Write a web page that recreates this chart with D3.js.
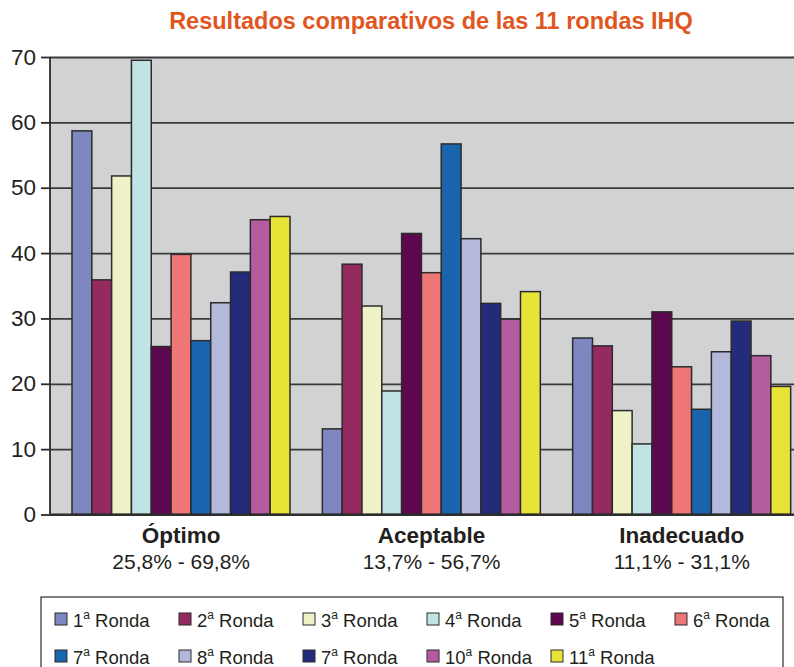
<!DOCTYPE html>
<html>
<head>
<meta charset="utf-8">
<script src="https://cdn.jsdelivr.net/npm/d3@7"></script>
<style>
    body { margin: 0; background: #fff; }
    svg { display: block; font-family: "Liberation Sans", Arial, sans-serif; }
</style>
</head>
<body>
<svg id="chart"></svg>
<script>
// data
var categories = ["Óptimo", "Aceptable", "Inadecuado"];
var ranges = ["25,8% - 69,8%", "13,7% - 56,7%", "11,1% - 31,1%"];
var rounds = ["1", "2", "3", "4", "5", "6", "7", "8", "7", "10", "11"];
var ronda1 = [58.7, 13.1, 27.0];
var ronda2 = [35.9, 38.3, 25.8];
var ronda3 = [51.8, 31.9, 15.9];
var ronda4 = [69.5, 18.9, 10.8];
var ronda5 = [25.7, 43.0, 31.0];
var ronda6 = [39.8, 37.0, 22.6];
var ronda7 = [26.6, 56.7, 16.1];
var ronda8 = [32.4, 42.2, 24.9];
var ronda9 = [37.1, 32.3, 29.6];
var ronda10 = [45.1, 29.9, 24.3];
var ronda11 = [45.6, 34.1, 19.6];
var yTicks = [0, 10, 20, 30, 40, 50, 60, 70];
var colors = ["#7f87c0", "#952a60", "#eff2c6", "#c0e3e3", "#5c0750", "#ef7677",
              "#1a64ae", "#b4b9dc", "#252b7b", "#b55ba0", "#e8e437"];

var series = [ronda1, ronda2, ronda3, ronda4, ronda5, ronda6, ronda7, ronda8, ronda9, ronda10, ronda11];

var width = 794, height = 667;
var plot = {left: 50, top: 57, right: 794, bottom: 514.5};

var svg = d3.select('#chart')
    .attr("width", width)
    .attr("height", height);

// title
svg.append("text")
    .attr("x", 431)
    .attr("y", 29)
    .attr("text-anchor", "middle")
    .attr("font-size", 23.5)
    .attr("font-weight", "bold")
    .attr("fill", "#e0561f")
    .text("Resultados comparativos de las 11 rondas IHQ");

// scales
var y = d3.scaleLinear()
    .domain([0, 70])
    .range([plot.bottom, plot.top]);

var x0 = d3.scaleBand()
    .domain(categories)
    .range([56, 807]);

var x1 = d3.scaleBand()
    .domain(d3.range(series.length))
    .range([16, 234]);

// plot background
svg.append("rect")
    .attr("x", plot.left)
    .attr("y", plot.top)
    .attr("width", plot.right - plot.left)
    .attr("height", plot.bottom - plot.top)
    .attr("fill", "#d1d2d4");

// gridlines
svg.append("g")
    .attr("class", "grid")
    .attr("transform", "translate(" + plot.left + ",0)")
    .call(d3.axisLeft(y)
        .tickValues(yTicks)
        .tickSize(-(plot.right - plot.left))
        .tickFormat(""))
    .call(function(g) { g.select(".domain").remove(); })
    .selectAll("line")
        .attr("stroke", "#3a3a3a")
        .attr("stroke-width", 1.8);

// bars
var groups = svg.append("g")
    .selectAll("g")
    .data(categories)
    .join("g")
    .attr("transform", function(d) { return "translate(" + x0(d) + ",0)"; });

groups.selectAll("rect")
    .data(function(d, i) {
        return series.map(function(s, j) { return {k: j, v: s[i]}; });
    })
    .join("rect")
    .attr("x", function(d) { return x1(d.k); })
    .attr("y", function(d) { return y(d.v); })
    .attr("width", x1.bandwidth())
    .attr("height", function(d) { return y(0) - y(d.v); })
    .attr("fill", function(d) { return colors[d.k]; })
    .attr("stroke", "#2b2b2b")
    .attr("stroke-width", 1.5);

// y axis
var yAxis = svg.append("g")
    .attr("transform", "translate(" + plot.left + ",0)")
    .call(d3.axisLeft(y)
        .tickValues(yTicks)
        .tickSize(9)
        .tickPadding(5)
        .tickFormat(d3.format('.0f')));
yAxis.select(".domain")
    .attr("stroke", "#2b2b2b")
    .attr("stroke-width", 1.8)
    .attr("d", "M0," + plot.top + "V" + plot.bottom);
yAxis.selectAll("line")
    .attr("stroke", "#2b2b2b")
    .attr("stroke-width", 1.8);
yAxis.selectAll("text")
    .attr("font-size", 22.5)
    .attr("font-family", "Liberation Sans, Arial, sans-serif")
    .attr("fill", "#231f20");

// x axis line
svg.append("line")
    .attr("x1", plot.left)
    .attr("x2", plot.right)
    .attr("y1", plot.bottom)
    .attr("y2", plot.bottom)
    .attr("stroke", "#2b2b2b")
    .attr("stroke-width", 2);

// category labels
var labels = svg.append("g")
    .selectAll("g")
    .data(categories)
    .join("g")
    .attr("transform", function(d) { return "translate(" + (x0(d) + x0.bandwidth() / 2) + ",0)"; });

labels.append("text")
    .attr("y", 543)
    .attr("text-anchor", "middle")
    .attr("font-size", 22.5)
    .attr("font-weight", "bold")
    .attr("fill", "#231f20")
    .text(function(d) { return d; });

labels.append("text")
    .attr("y", 569)
    .attr("text-anchor", "middle")
    .attr("font-size", 21)
    .attr("fill", "#231f20")
    .text(function(d, i) { return ranges[i]; });

// legend
var legend = svg.append("g");
legend.append("rect")
    .attr("x", 41)
    .attr("y", 597)
    .attr("width", 742)
    .attr("height", 90)
    .attr("fill", "none")
    .attr("stroke", "#2b2b2b")
    .attr("stroke-width", 1.2);

var items = legend.selectAll("g.item")
    .data(rounds)
    .join("g")
    .attr("class", "item")
    .attr("transform", function(d, i) {
        return "translate(" + (55 + (i % 6) * 124) + "," + (620 + Math.floor(i / 6) * 37) + ")";
    });

items.append("rect")
    .attr("x", 0)
    .attr("y", -7)
    .attr("width", 12)
    .attr("height", 12)
    .attr("fill", function(d, i) { return colors[i]; })
    .attr("stroke", "#2b2b2b")
    .attr("stroke-width", 1);

var itemText = items.append("text")
    .attr("x", 18)
    .attr("y", 6.5)
    .attr("font-size", 18.5)
    .attr("fill", "#231f20");
itemText.append("tspan").text(function(d) { return d; });
itemText.append("tspan")
    .attr("dy", -8)
    .attr("font-size", 12)
    .text("a");
itemText.append("tspan")
    .attr("dy", 8)
    .text(" Ronda");
</script>
</body>
</html>
